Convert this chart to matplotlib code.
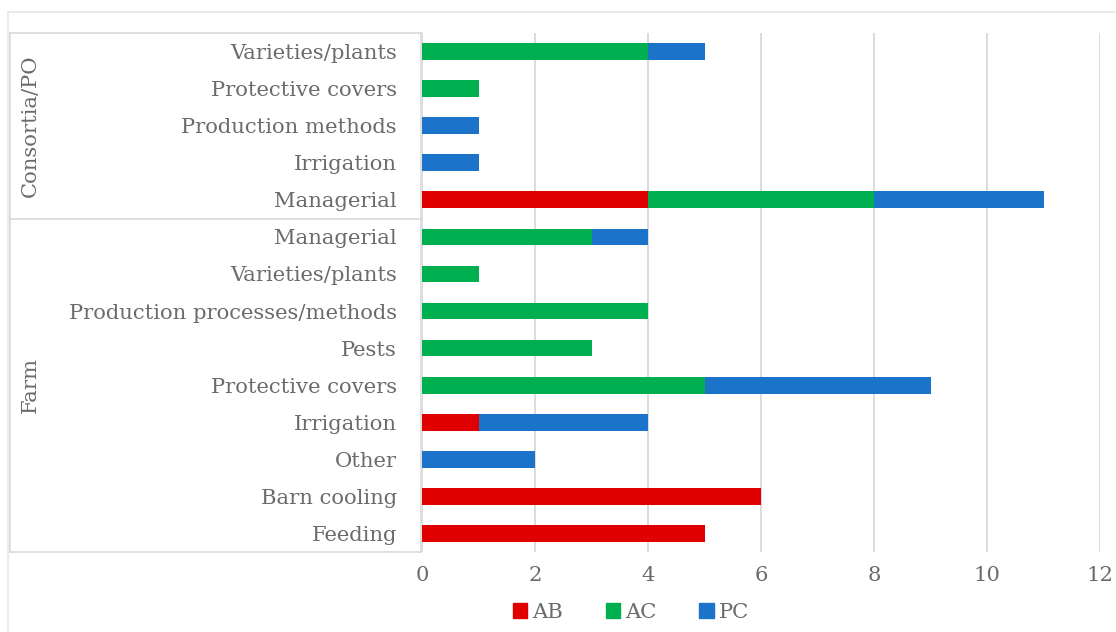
import matplotlib
matplotlib.use("Agg")
import matplotlib.pyplot as plt
from matplotlib.lines import Line2D
from matplotlib.patches import Patch
import numpy as np

groups = ["Consortia/PO", "Farm"]
categories = [
    "Varieties/plants", "Protective covers", "Production methods", "Irrigation", "Managerial",
    "Managerial", "Varieties/plants", "Production processes/methods", "Pests",
    "Protective covers", "Irrigation", "Other", "Barn cooling", "Feeding",
]
group_sizes = [5, 9]
series_names = ["AB", "AC", "PC"]
AB = [0, 0, 0, 0, 4, 0, 0, 0, 0, 0, 1, 0, 6, 5]
AC = [4, 1, 0, 0, 4, 3, 1, 4, 3, 5, 0, 0, 0, 0]
PC = [1, 0, 1, 1, 3, 1, 0, 0, 0, 4, 3, 2, 0, 0]
colors = ["#E00000", "#00B050", "#1B74C9"]
xticks = [0, 2, 4, 6, 8, 10, 12]

plt.rcParams['font.family'] = ['DejaVu Serif']
FS = 15.2
TC = "#6b6b6b"
W, H = 1116, 632
fig = plt.figure(figsize=(W / 100, H / 100), dpi=100)
ax = fig.add_axes([422 / W, (H - 552) / H, (1100 - 422) / W, (552 - 33) / H])

n = len(categories)
y = np.arange(n)
left = np.zeros(n)
for vals, c, name in zip([AB, AC, PC], colors, series_names):
    ax.barh(y, vals, left=left, height=0.45, color=c, label=name, zorder=3)
    left += np.array(vals)

ax.set_ylim(n - 0.5, -0.5)
ax.set_xlim(0, 12)
ax.set_xticks(xticks)
ax.set_xticklabels([str(t) for t in xticks])
ax.set_yticks(y)
ax.set_yticklabels(categories)
ax.tick_params(axis='y', length=0, pad=18, labelsize=FS, labelcolor=TC)
ax.tick_params(axis='x', length=0, pad=10, labelsize=FS, labelcolor=TC)
ax.grid(axis='x', color="#d9d9d9", linewidth=1.3, zorder=0)
for s in ax.spines.values():
    s.set_visible(False)

def fl(x0, y0, x1, y1, color="#d9d9d9", lw=1.2):
    fig.add_artist(Line2D([x0 / W, x1 / W], [1 - y0 / H, 1 - y1 / H], color=color, lw=lw))

# outer chart border
fl(8, 12, 1116, 12, color="#e6e6e6")
fl(8, 12, 8, 632, color="#e6e6e6")
# group boxes
fl(10, 33, 421, 33)
fl(10, 219, 421, 219)
fl(10, 552, 421, 552)
fl(10, 33, 10, 552)
fl(421, 33, 421, 552)

# group labels
fig.text(30 / W, 1 - 126 / H, groups[0], rotation=90, ha='center', va='center',
         fontsize=FS, color=TC)
fig.text(30 / W, 1 - 385 / H, groups[1], rotation=90, ha='center', va='center',
         fontsize=FS, color=TC)

handles = [Patch(color=c) for c in colors]
fig.legend(handles, series_names, loc='center', bbox_to_anchor=(631 / W, 1 - 612 / H),
           ncol=3, frameon=False, fontsize=FS, handlelength=0.7, handleheight=0.7,
           handletextpad=0.25, columnspacing=2.0, labelcolor=TC,
           borderpad=0, borderaxespad=0)

fig.savefig("out.png", dpi=100)
